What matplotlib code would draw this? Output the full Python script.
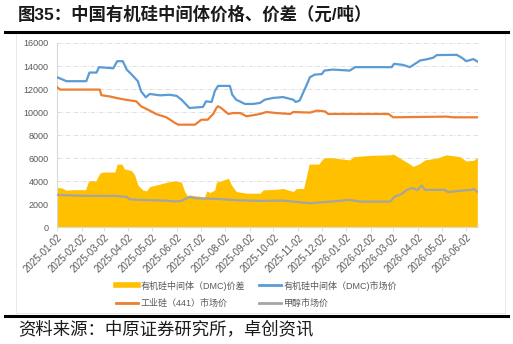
import numpy as np
import pandas as pd
import matplotlib
matplotlib.use("Agg")
import matplotlib.pyplot as plt
import matplotlib.dates as mdates
from matplotlib.lines import Line2D
from matplotlib.patches import Rectangle

plt.rcParams['font.family'] = ['Liberation Sans', 'Noto Sans CJK SC', 'DejaVu Sans']

# 有机硅中间体(DMC)市场价
dmc_dates = ['2025-01-02', '2025-01-14', '2025-02-08', '2025-02-12', '2025-02-21', '2025-02-24',
             '2025-03-14', '2025-03-19', '2025-03-26', '2025-03-31', '2025-04-07', '2025-04-14',
             '2025-04-18', '2025-04-24', '2025-04-29', '2025-05-12', '2025-05-24', '2025-06-02',
             '2025-06-08', '2025-06-14', '2025-06-18', '2025-07-05', '2025-07-09', '2025-07-16',
             '2025-07-20', '2025-07-24', '2025-08-08', '2025-08-11', '2025-08-16', '2025-08-27',
             '2025-09-06', '2025-09-15', '2025-09-21', '2025-10-01', '2025-10-14', '2025-10-27',
             '2025-10-30', '2025-11-04', '2025-11-13', '2025-11-17', '2025-11-23', '2025-12-02',
             '2025-12-05', '2025-12-16', '2026-01-06', '2026-01-13', '2026-02-28', '2026-03-03',
             '2026-03-14', '2026-03-23', '2026-04-05', '2026-04-13', '2026-04-21', '2026-04-26',
             '2026-05-21', '2026-05-27', '2026-06-02', '2026-06-11', '2026-06-17']
dmc_price = [13030, 12680, 12680, 13430, 13430, 13900,
             13800, 14420, 14420, 13690, 13200, 12680,
             11810, 11280, 11570, 11450, 11500, 11400,
             11070, 10640, 10350, 10440, 10930, 10870,
             11810, 12270, 12270, 11510, 11070, 10700,
             10700, 10790, 11070, 11220, 11300, 11070,
             10870, 11000, 12380, 13030, 13250, 13300,
             13600, 13690, 13600, 13900, 13900, 14190,
             14100, 13900, 14480, 14580, 14710, 14950,
             14970, 14740, 14420, 14600, 14360]

# 工业硅(441)市场价
si_dates = ['2025-01-02', '2025-01-06', '2025-02-25', '2025-02-27', '2025-03-09', '2025-03-18',
            '2025-03-31', '2025-04-12', '2025-04-18', '2025-04-29', '2025-05-08', '2025-05-20',
            '2025-05-31', '2025-06-04', '2025-06-25', '2025-07-03', '2025-07-11', '2025-07-18',
            '2025-07-22', '2025-07-24', '2025-07-28', '2025-08-06', '2025-08-12', '2025-08-21',
            '2025-08-29', '2025-09-06', '2025-09-15', '2025-09-23', '2025-10-06', '2025-10-23',
            '2025-10-27', '2025-11-17', '2025-11-26', '2025-12-06', '2025-12-10', '2026-02-24',
            '2026-03-02', '2026-05-08', '2026-05-17', '2026-06-17']
si_price = [12160, 11950, 11950, 11460, 11360, 11220,
            11050, 10930, 10500, 10120, 9800, 9540,
            9040, 8900, 8900, 9330, 9330, 9830,
            10350, 10500, 10350, 9830, 9910, 9910,
            9630, 9720, 9830, 10000, 9910, 9830,
            10000, 9950, 10120, 10050, 9830, 9830,
            9540, 9600, 9540, 9540]

# 甲醇市场价
meoh_dates = ['2025-01-02', '2025-01-10', '2025-02-04', '2025-03-18', '2025-03-31', '2025-04-04',
              '2025-04-29', '2025-05-20', '2025-05-31', '2025-06-08', '2025-06-18', '2025-06-25',
              '2025-07-22', '2025-08-16', '2025-09-15', '2025-10-14', '2025-11-17', '2025-12-20',
              '2026-01-06', '2026-01-19', '2026-02-26', '2026-03-04', '2026-03-12', '2026-03-19',
              '2026-03-27', '2026-04-01', '2026-04-07', '2026-04-11', '2026-05-06', '2026-05-10',
              '2026-05-25', '2026-06-09', '2026-06-11', '2026-06-17']
meoh_price = [2800, 2770, 2720, 2700, 2620, 2400,
              2330, 2290, 2220, 2280, 2620, 2500,
              2450, 2330, 2270, 2300, 2070, 2250,
              2360, 2210, 2210, 2650, 2850, 3230,
              3400, 3200, 3610, 3230, 3230, 3030,
              3150, 3230, 3320, 3030]

# 有机硅中间体(DMC)价差
spread_dates = ['2025-01-02', '2025-01-08', '2025-01-14', '2025-01-23', '2025-02-07', '2025-02-11',
                '2025-02-20', '2025-02-25', '2025-03-01', '2025-03-16', '2025-03-19', '2025-03-25',
                '2025-03-28', '2025-04-06', '2025-04-10', '2025-04-14', '2025-04-20', '2025-04-25',
                '2025-04-29', '2025-05-08', '2025-05-16', '2025-05-24', '2025-05-31', '2025-06-08',
                '2025-06-12', '2025-06-16', '2025-06-18', '2025-07-03', '2025-07-07', '2025-07-10',
                '2025-07-14', '2025-07-20', '2025-07-22', '2025-07-28', '2025-08-06', '2025-08-10',
                '2025-08-16', '2025-08-29', '2025-09-15', '2025-09-19', '2025-10-06', '2025-10-14',
                '2025-10-27', '2025-10-31', '2025-11-09', '2025-11-12', '2025-11-16', '2025-11-28',
                '2025-12-04', '2025-12-12', '2026-01-06', '2026-01-11', '2026-02-01', '2026-02-26',
                '2026-03-02', '2026-03-14', '2026-03-23', '2026-03-27', '2026-04-04', '2026-04-11',
                '2026-04-26', '2026-05-08', '2026-05-25', '2026-06-02', '2026-06-11', '2026-06-16']
spread_value = [3440, 3400, 3200, 3250, 3250, 4010,
                4010, 4680, 4780, 4780, 5470, 5470,
                5060, 4900, 4530, 3660, 3230, 3140,
                3520, 3660, 3810, 3950, 4010, 3900,
                3090, 2650, 2790, 2650, 2600, 3140,
                3000, 3230, 3900, 4010, 4250, 3660,
                3090, 2940, 2940, 3230, 3280, 3350,
                3090, 3350, 3350, 4250, 5470, 5470,
                5990, 6040, 5840, 6120, 6230, 6280,
                6340, 5840, 5470, 5270, 5500, 5840,
                5990, 6280, 6120, 5740, 5800, 6040]

tick_dates = pd.date_range('2025-01-01', '2026-06-01', freq='MS') + pd.Timedelta(days=1)
y_ticks = list(range(0, 16001, 2000))

fig = plt.figure(figsize=(5.13, 3.44), dpi=100)
ax = fig.add_axes([0.111, 0.340, 0.821, 0.535])

grid_color = '#d9d9d9'
for v in y_ticks[1:]:
    ax.axhline(v, color=grid_color, lw=0.6, ls=(0, (5, 2, 1, 2)), zorder=0)

sd = pd.to_datetime(spread_dates)
ax.fill_between(sd, 0, spread_value, color='#FFC000', lw=0, zorder=1)
ax.plot(pd.to_datetime(dmc_dates), dmc_price, color='#5B9BD5', lw=1.6, zorder=3)
ax.plot(pd.to_datetime(si_dates), si_price, color='#ED7D31', lw=1.6, zorder=3)
ax.plot(pd.to_datetime(meoh_dates), meoh_price, color='#A5A5A5', lw=1.6, zorder=3)

ax.set_ylim(0, 16000)
ax.set_xlim(pd.Timestamp('2025-01-02'), pd.Timestamp('2026-06-17'))
ax.set_yticks(y_ticks)
ax.set_xticks(tick_dates)
ax.xaxis.set_major_formatter(mdates.DateFormatter('%Y-%m-%d'))
ax.tick_params(axis='y', length=0, labelsize=6.5, labelcolor='#595959', pad=6)
ax.tick_params(axis='x', length=3, width=0.6, color=grid_color, labelsize=7,
               labelcolor='#595959', pad=1)
for lab in ax.get_xticklabels():
    lab.set_rotation(45)
    lab.set_ha('right')
    lab.set_rotation_mode('anchor')
for side in ['top', 'right']:
    ax.spines[side].set_visible(False)
for side in ['left', 'bottom']:
    ax.spines[side].set_color(grid_color)
    ax.spines[side].set_linewidth(0.8)

handles = [Line2D([], [], color='#FFC000', lw=4),
           Line2D([], [], color='#ED7D31', lw=2),
           Line2D([], [], color='#5B9BD5', lw=2),
           Line2D([], [], color='#A5A5A5', lw=2)]
labels = ['有机硅中间体（DMC)价差', '工业硅（441）市场价',
          '有机硅中间体（DMC)市场价', '甲醇市场价']
fig.legend(handles, labels, ncol=2, loc='center', bbox_to_anchor=(0.5, 0.145),
           frameon=False, fontsize=6.5, labelcolor='#595959', handlelength=2.4,
           handletextpad=0.3, columnspacing=1.6, labelspacing=0.9)

# 图框、标题线与来源
fig.patches.append(Rectangle((0.032, 0.09), 0.952, 0.815, transform=fig.transFigure,
                             fill=False, edgecolor='#e6e6e6', lw=0.6))
fig.add_artist(Line2D([0.01, 0.99], [0.908, 0.908], color='black', lw=2.2,
                      transform=fig.transFigure))
fig.add_artist(Line2D([0.01, 0.99], [0.082, 0.082], color='black', lw=2.2,
                      transform=fig.transFigure))
fig.text(0.035, 0.958, '图35：中国有机硅中间体价格、价差（元/吨）', fontsize=12.5,
         fontweight='bold', color='#1a1a1a', va='center', ha='left')
fig.text(0.035, 0.043, '资料来源：中原证券研究所，卓创资讯', fontsize=12.5,
         color='#1a1a1a', va='center', ha='left')

fig.savefig('out.png', dpi=100, facecolor='white')
